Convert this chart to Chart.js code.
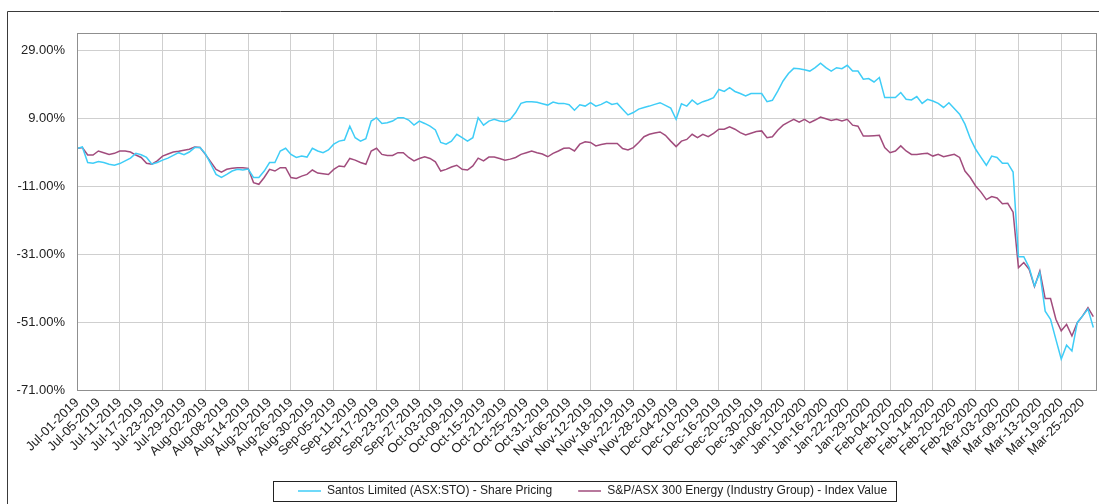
<!DOCTYPE html>
<html>
<head>
<meta charset="utf-8">
<script src="https://cdn.jsdelivr.net/npm/chart.js@4.4.1/dist/chart.umd.min.js"></script>
<style>
  html, body { margin: 0; padding: 0; background: #ffffff; }
  #wrap { width: 1099px; height: 504px; position: relative; }
</style>
</head>
<body>
<div id="wrap"><canvas id="c" width="1099" height="504"></canvas></div>
<script>
// ---- Data ----
const tickLabels = [
  "Jul-01-2019","Jul-05-2019","Jul-11-2019","Jul-17-2019","Jul-23-2019","Jul-29-2019",
  "Aug-02-2019","Aug-08-2019","Aug-14-2019","Aug-20-2019","Aug-26-2019","Aug-30-2019",
  "Sep-05-2019","Sep-11-2019","Sep-17-2019","Sep-23-2019","Sep-27-2019","Oct-03-2019",
  "Oct-09-2019","Oct-15-2019","Oct-21-2019","Oct-25-2019","Oct-31-2019","Nov-06-2019",
  "Nov-12-2019","Nov-18-2019","Nov-22-2019","Nov-28-2019","Dec-04-2019","Dec-10-2019",
  "Dec-16-2019","Dec-20-2019","Dec-30-2019","Jan-06-2020","Jan-10-2020","Jan-16-2020",
  "Jan-22-2020","Jan-29-2020","Feb-04-2020","Feb-10-2020","Feb-14-2020","Feb-20-2020",
  "Feb-26-2020","Mar-03-2020","Mar-09-2020","Mar-13-2020","Mar-19-2020","Mar-25-2020"
];
const yTickValues = [-71, -51, -31, -11, 9, 29];

const seriesNames = [
  "Santos Limited (ASX:STO) - Share Pricing",
  "S&P/ASX 300 Energy (Industry Group) - Index Value"
];

// Santos Limited share price, % change (one value per trading day)
const santos = [
  0, 0.5, -4.1, -4.3, -3.8, -4.1, -4.6, -4.9, -4.4, -3.6,
  -2.8, -1.4, -1.8, -2.6, -4.6, -4.1, -3.4, -2.8, -2.0, -1.2,
  -1.8, -1.0, 0.3, 0.3, -1.5, -4.5, -7.6, -8.5, -7.6, -6.6,
  -6.1, -6.3, -6.0, -8.5, -8.5, -6.6, -4.1, -4.1, -0.7, 0.1,
  -1.7, -2.6, -2.2, -2.5, 0.1, -0.7, -1.2, -0.4, 1.3, 2.2,
  2.5, 6.6, 3.2, 2.2, 2.9, 8.1, 9.1, 7.4, 7.6, 8.1,
  9.1, 9.1, 8.4, 6.9, 8.1, 7.4, 6.6, 5.5, 1.8, 1.3,
  2.2, 4.2, 3.2, 2.2, 3.2, 9.1, 6.9, 8.1, 8.6, 8.1,
  7.9, 8.6, 10.6, 13.3, 13.8, 13.8, 13.6, 13.2, 12.8, 13.7,
  13.3, 13.3, 12.9, 11.3, 12.9, 12.5, 13.5, 12.5, 13.0, 13.8,
  13.0, 13.3, 11.6, 9.9, 10.6, 11.6, 12.1, 12.5, 13.0, 13.5,
  12.7, 11.9, 8.6, 13.2, 12.5, 14.3, 13.0, 13.8, 14.3, 15.0,
  17.4, 16.8, 17.9, 16.8, 16.2, 15.5, 16.2, 16.2, 16.2, 13.8,
  14.2, 16.9, 19.9, 22.1, 23.6, 23.5, 23.2, 22.8, 23.8, 25.1,
  23.8, 22.8, 23.8, 23.5, 24.5, 22.8, 22.8, 20.4, 20.6, 19.6,
  20.9, 15.0, 15.0, 15.0, 16.5, 14.5, 14.3, 15.3, 13.3, 14.5,
  14.0, 13.3, 12.1, 13.5, 11.8, 10.1, 7.2, 3.0, -0.2, -2.6,
  -4.9, -2.2, -2.6, -4.3, -4.3, -6.9, -31.8, -31.8, -35.0, -40.4,
  -36.5, -47.8, -50.2, -56.1, -61.9, -57.8, -59.5, -51.2, -49.2, -47.2,
  -52.6
];

// S&P/ASX 300 Energy index, % change
const energy = [
  0, 0.3, -1.9, -1.9, -0.7, -1.2, -1.7, -1.4, -0.7, -0.7,
  -1.0, -1.9, -2.6, -4.3, -4.6, -3.6, -2.2, -1.6, -1.0, -0.8,
  -0.5, -0.2, 0.5, 0.3, -1.7, -3.9, -6.1, -6.9, -6.1, -5.8,
  -5.6, -5.6, -5.8, -10.0, -10.5, -8.5, -6.1, -6.6, -5.6, -5.6,
  -8.5, -8.8, -8.1, -7.6, -6.3, -7.2, -7.4, -7.6, -6.1, -5.1,
  -5.3, -2.9, -3.4, -4.1, -4.6, -0.7, 0.1, -1.7, -2.0, -2.0,
  -1.2, -1.2, -2.6, -3.6, -2.9, -2.4, -2.9, -3.9, -6.6, -6.1,
  -5.4, -4.9, -6.1, -6.3, -5.1, -2.8, -3.6, -2.5, -2.5, -2.9,
  -3.4, -3.1, -2.6, -1.7, -1.2, -0.7, -1.2, -1.6, -2.4, -1.4,
  -0.7, 0.1, 0.2, -0.7, 1.3, 2.0, 1.8, 0.8, 1.2, 1.5,
  1.5, 1.5, 0.0, -0.4, 0.3, 1.8, 3.5, 4.2, 4.6, 4.9,
  3.9, 2.2, 0.6, 2.2, 2.7, 4.2, 3.2, 4.2, 3.5, 4.5,
  5.7, 5.7, 6.4, 5.7, 4.7, 4.0, 4.5, 5.0, 5.2, 3.2,
  3.5, 5.4, 6.9, 7.8, 8.6, 7.8, 8.6, 7.6, 8.4, 9.3,
  8.8, 8.3, 8.6, 8.1, 8.6, 6.9, 6.6, 3.7, 3.7, 3.8,
  3.9, 0.3, -1.2, -0.7, 0.8, -0.7, -1.7, -1.7, -1.5, -1.4,
  -2.2, -1.7, -2.4, -2.0, -1.7, -2.6, -6.6, -8.5, -11.0, -12.8,
  -15.0, -14.1, -14.5, -16.2, -16.1, -18.7, -35.0, -33.5, -35.5, -40.6,
  -36.0, -44.1, -44.1, -50.2, -53.6, -51.7, -55.1, -51.2, -49.2, -46.8,
  -49.4
];

// ---- Styling ----
const FONT = "'Liberation Sans', Arial, sans-serif";
const TEXT = '#222222';
const GRID = '#cfcfcf';
const FRAME = '#8f8f8f';
const COLORS = ['#3fcdf7', '#a14c7d'];

// legend sample: blank lead-in followed by a short line
const LEAD = 22, SAMPLE = 23;
function legendSample(color) {
  const c = document.createElement('canvas');
  c.width = LEAD + SAMPLE;
  c.height = 4;
  const g = c.getContext('2d');
  g.strokeStyle = color;
  g.lineWidth = 1.5;
  g.beginPath();
  g.moveTo(LEAD, 2);
  g.lineTo(LEAD + SAMPLE, 2);
  g.stroke();
  return c;
}

const toPoints = arr => arr.map((v, i) => ({ x: i, y: v }));

const framePlugin = {
  id: 'frames',
  afterUpdate(chart) {
    const lg = chart.legend;
    if (!lg || !lg.legendHitBoxes) return;
    const dx = -5, dy = 3;
    lg.left += dx; lg.right += dx;
    lg.top += dy; lg.bottom += dy;
    lg.legendHitBoxes.forEach(h => { h.left += dx; h.top += dy; });
  },
  beforeDraw(chart) {
    const ctx = chart.ctx;
    ctx.save();
    ctx.fillStyle = '#ffffff';
    ctx.fillRect(0, 0, chart.width, chart.height);
    ctx.strokeStyle = '#3a3a3a';
    ctx.lineWidth = 1;
    ctx.beginPath();
    ctx.moveTo(7.5, chart.height);
    ctx.lineTo(7.5, 11.5);
    ctx.lineTo(chart.width, 11.5);
    ctx.stroke();
    ctx.restore();
  },
  afterDatasetsDraw(chart) {
    const a = chart.chartArea;
    const ctx = chart.ctx;
    ctx.save();
    ctx.strokeStyle = FRAME;
    ctx.lineWidth = 1;
    ctx.strokeRect(Math.round(a.left) + 0.5, Math.round(a.top) + 0.5,
                   Math.round(a.right - a.left), Math.round(a.bottom - a.top));
    ctx.restore();
  },
  afterDraw(chart) {
    const lg = chart.legend;
    if (!lg || !lg.legendHitBoxes || !lg.legendHitBoxes.length) return;
    const hb = lg.legendHitBoxes;
    const first = hb[0], last = hb[hb.length - 1];
    const left = first.left - 3;
    const right = last.left + last.width + 9;
    const top = first.top - 4;
    const bottom = first.top + first.height + 4;
    const ctx = chart.ctx;
    ctx.save();
    ctx.strokeStyle = '#222222';
    ctx.lineWidth = 1;
    ctx.strokeRect(Math.round(left) + 0.5, Math.round(top) + 0.5,
                   Math.round(right - left), Math.round(bottom - top));
    ctx.restore();
  }
};

new Chart(document.getElementById('c'), {
  type: 'line',
  data: {
    datasets: [
      {
        label: seriesNames[0],
        data: toPoints(santos),
        borderColor: COLORS[0],
        backgroundColor: COLORS[0],
        borderWidth: 1.5,
        pointRadius: 0,
        pointStyle: legendSample(COLORS[0]),
        tension: 0,
        fill: false
      },
      {
        label: seriesNames[1],
        data: toPoints(energy),
        borderColor: COLORS[1],
        backgroundColor: COLORS[1],
        borderWidth: 1.5,
        pointRadius: 0,
        pointStyle: legendSample(COLORS[1]),
        tension: 0,
        fill: false
      }
    ]
  },
  options: {
    responsive: false,
    animation: false,
    events: [],
    layout: { padding: { top: 33, right: 3, left: 0, bottom: 0 } },
    scales: {
      x: {
        type: 'linear',
        min: 0,
        max: 190.5,
        afterBuildTicks(scale) {
          scale.ticks = santos.map((_, i) => ({ value: i }));
        },
        afterFit(scale) {
          scale.height = 88;
          scale.paddingRight = 0;
        },
        grid: {
          drawTicks: false,
          color: ctx => (ctx.tick && ctx.tick.value % 8 === 0) ? GRID : 'rgba(0,0,0,0)',
          lineWidth: 1
        },
        border: { display: true, color: FRAME },
        ticks: {
          autoSkip: false,
          minRotation: 45,
          maxRotation: 45,
          padding: 5,
          color: TEXT,
          font: { family: FONT, size: 13 },
          callback: (value, index) => (index % 4 === 0 && tickLabels[index / 4]) ? tickLabels[index / 4] : ''
        }
      },
      y: {
        min: -71,
        max: 34,
        afterBuildTicks(scale) {
          scale.ticks = yTickValues.map(v => ({ value: v }));
        },
        afterFit(scale) { scale.width = 77; },
        grid: { drawTicks: false, color: GRID, lineWidth: 1 },
        border: { display: true, color: FRAME },
        ticks: {
          padding: 12,
          color: TEXT,
          font: { family: FONT, size: 13 },
          callback: v => v.toFixed(2) + '%'
        }
      }
    },
    plugins: {
      legend: {
        display: true,
        position: 'bottom',
        fullSize: false,
        labels: {
          usePointStyle: true,
          pointStyleWidth: LEAD + SAMPLE,
          boxHeight: 12,
          padding: 4,
          color: TEXT,
          font: { family: FONT, size: 12 }
        }
      },
      tooltip: { enabled: false },
      title: { display: false }
    }
  },
  plugins: [framePlugin]
});
</script>
</body>
</html>
